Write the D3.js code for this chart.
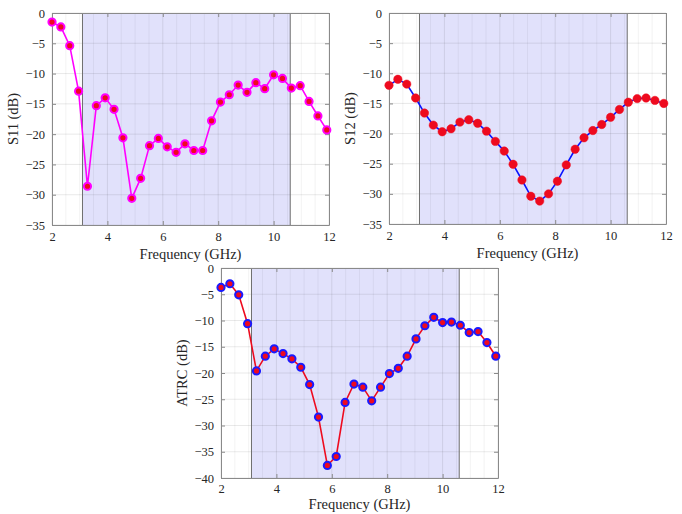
<!DOCTYPE html>
<html>
<head>
<meta charset="utf-8">
<script src="https://cdn.jsdelivr.net/npm/d3@7"></script>
<style>
  body { margin: 0; background: #fff; }
  text { font-family: "Liberation Serif", "DejaVu Serif", serif; fill: #262626; }
</style>
</head>
<body>
<svg width="682" height="514"></svg>
<script>
var freq = [2.00, 2.32, 2.64, 2.96, 3.28, 3.60, 3.92, 4.24, 4.56, 4.88, 5.20, 5.52, 5.84, 6.16, 6.48, 6.80,
            7.12, 7.44, 7.76, 8.08, 8.40, 8.72, 9.04, 9.36, 9.68, 10.00, 10.32, 10.64, 10.96, 11.28, 11.60, 11.92];

var s11 = [-1.5, -2.3, -5.4, -12.9, -28.6, -15.3, -14.0, -15.9, -20.6, -30.6, -27.3, -21.9, -20.7, -22.1, -23.0, -21.6,
           -22.7, -22.7, -17.8, -14.7, -13.5, -11.9, -13.1, -11.5, -12.5, -10.2, -10.8, -12.4, -12.0, -14.6, -17.0, -19.3];

var s12 = [-12.0, -11.0, -11.8, -14.1, -16.6, -18.6, -19.7, -19.2, -18.1, -17.7, -18.3, -19.6, -21.3, -22.9, -25.1, -27.7,
           -30.4, -31.2, -30.0, -27.9, -25.2, -22.6, -20.7, -19.5, -18.5, -17.3, -16.0, -14.8, -14.2, -14.1, -14.5, -15.0];

var atrc = [-3.7, -3.0, -5.1, -10.6, -19.6, -16.8, -15.4, -16.3, -17.3, -18.9, -22.2, -28.4, -37.6, -35.9, -25.6, -22.1,
            -22.7, -25.3, -22.7, -20.1, -19.1, -16.8, -13.5, -11.0, -9.4, -10.4, -10.3, -10.9, -12.3, -12.1, -14.2, -16.8];

var uwbBand = [3.1, 10.6];
var xTicks = [2, 4, 6, 8, 10, 12];
var xMinor = [2.5, 3, 3.5, 4.5, 5, 5.5, 6.5, 7, 7.5, 8.5, 9, 9.5, 10.5, 11, 11.5];
var yTicks35 = [0, -5, -10, -15, -20, -25, -30, -35];
var yTicks40 = [0, -5, -10, -15, -20, -25, -30, -35, -40];

var svg = d3.select("svg");

function drawPanel(p) {
    var g = svg.append("g").attr("transform", "translate(" + p.left + "," + p.top + ")");
    var w = p.width, h = p.height;

    var x = d3.scaleLinear().domain([2, 12]).range([0, w]);
    var y = d3.scaleLinear().domain([p.ymin, 0]).range([h, 0]);

    // band
    g.append("rect")
        .attr("x", x(uwbBand[0])).attr("y", 0)
        .attr("width", x(uwbBand[1]) - x(uwbBand[0])).attr("height", h)
        .attr("fill", "#e1e1fb");

    // grid
    g.selectAll(".minor").data(xMinor).enter().append("line")
        .attr("x1", d => x(d)).attr("x2", d => x(d)).attr("y1", 0).attr("y2", h)
        .attr("stroke", "#262626").attr("stroke-opacity", 0.07).attr("stroke-width", 0.8);
    g.selectAll(".gx").data(xTicks).enter().append("line")
        .attr("x1", d => x(d)).attr("x2", d => x(d)).attr("y1", 0).attr("y2", h)
        .attr("stroke", "#262626").attr("stroke-opacity", 0.13).attr("stroke-width", 0.8);
    g.selectAll(".gy").data(p.yTicks).enter().append("line")
        .attr("x1", 0).attr("x2", w).attr("y1", d => y(d)).attr("y2", d => y(d))
        .attr("stroke", "#262626").attr("stroke-opacity", 0.13).attr("stroke-width", 0.8);

    // band edges
    g.selectAll(".edge").data(uwbBand).enter().append("line")
        .attr("x1", d => x(d)).attr("x2", d => x(d)).attr("y1", 0).attr("y2", h)
        .attr("stroke", "#6e6e6e").attr("stroke-width", 1);

    // axes with inward ticks
    var ax = g.append("g").attr("transform", "translate(0," + h + ")")
        .call(d3.axisBottom(x).tickValues(xTicks).tickSizeInner(-4).tickSizeOuter(0).tickPadding(p.tickPad));
    var axTop = g.append("g")
        .call(d3.axisTop(x).tickValues(xTicks).tickSizeInner(-4).tickSizeOuter(0).tickFormat(""));
    var ay = g.append("g")
        .call(d3.axisLeft(y).tickValues(p.yTicks).tickSizeInner(-4).tickSizeOuter(0).tickPadding(7));
    var ayR = g.append("g").attr("transform", "translate(" + w + ",0)")
        .call(d3.axisRight(y).tickValues(p.yTicks).tickSizeInner(-4).tickSizeOuter(0).tickFormat(""));
    [ax, axTop, ay, ayR].forEach(function(a) {
        a.select(".domain").attr("stroke", "#8a8a8a");
        a.selectAll(".tick line").attr("stroke", "#8a8a8a");
        a.selectAll("text").attr("font-size", 12.5).attr("fill", "#262626")
            .style("font-family", "'Liberation Serif', serif");
    });

    // line
    g.append("path")
        .datum(freq.map((f, i) => [f, p.values[i]]))
        .attr("fill", "none")
        .attr("stroke", p.lineColor)
        .attr("stroke-width", 1.6)
        .attr("d", d3.line().x(d => x(d[0])).y(d => y(d[1])));

    g.selectAll(".pt").data(p.values).enter().append("circle")
        .attr("cx", (d, i) => x(freq[i]))
        .attr("cy", d => y(d))
        .attr("r", p.r)
        .attr("fill", "#ee0a1e")
        .attr("stroke", p.markEdge)
        .attr("stroke-width", p.edgeW);

    // labels
    g.append("text")
        .attr("x", w / 2).attr("y", h + p.labelOff)
        .attr("text-anchor", "middle")
        .attr("font-size", 14.5)
        .text("Frequency (GHz)");
    g.append("text")
        .attr("transform", "translate(" + (-34) + "," + (h / 2) + ") rotate(-90)")
        .attr("text-anchor", "middle")
        .attr("font-size", 14.5)
        .text(p.ylabel);
}

drawPanel({left: 52, top: 13, width: 277, height: 212, ymin: -35, yTicks: yTicks35, tickPad: 7, labelOff: 34,
           values: s11, lineColor: "#ff00ff", markEdge: "#ff00ff", edgeW: 2, r: 3.6, ylabel: "S11 (dB)"});
drawPanel({left: 389, top: 13, width: 277, height: 211, ymin: -35, yTicks: yTicks35, tickPad: 7, labelOff: 34,
           values: s12, lineColor: "#0a14ff", markEdge: "#ee0a1e", edgeW: 0.5, r: 4.2, ylabel: "S12 (dB)"});
drawPanel({left: 221, top: 268, width: 277, height: 210, ymin: -40, yTicks: yTicks40, tickPad: 6, labelOff: 31,
           values: atrc, lineColor: "#ee0a1e", markEdge: "#1a1aff", edgeW: 2, r: 3.6, ylabel: "ATRC (dB)"});
</script>
</body>
</html>
